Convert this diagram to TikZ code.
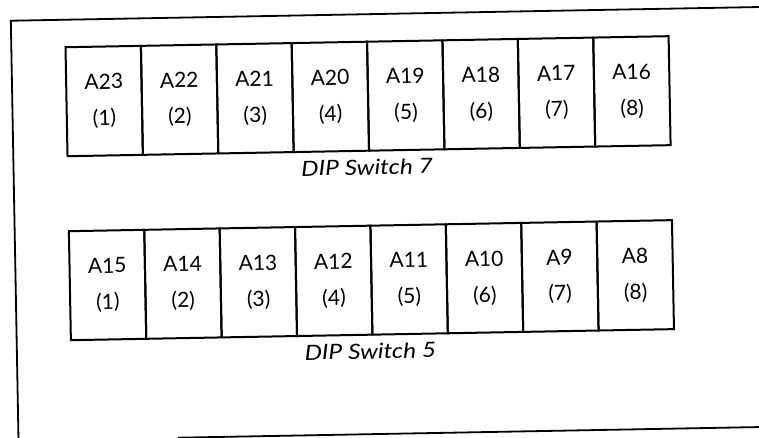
\documentclass[tikz,border=0pt]{standalone}
\usepackage{fontspec}
\setmainfont{Lato}
\begin{document}
\begin{tikzpicture}[x=1pt,y=-1pt,
  frameline/.style={line width=1.8pt},
  cell/.style={draw, line width=2pt, rectangle, minimum width=75.4pt, minimum height=109pt,
    inner sep=0pt, align=center, font=\fontsize{21}{36}\selectfont, transform shape},
  diplabel/.style={font=\fontsize{21}{25}\itshape, inner sep=0pt, transform shape}]
\useasboundingbox (0,0) rectangle (759,438);
\clip (0,0) rectangle (759,438);
\begin{scope}[rotate around={1.05:(380,219)}]
  % frame
  \coordinate (ftr) at (820,14);
  \coordinate (ftl) at (14.5,14);
  \coordinate (fbl) at (14.5,470);
  \coordinate (bbl) at (174,434);
  \coordinate (bbr) at (820,434);
  \draw[frameline] (ftr) -- (ftl) -- (fbl);
  \draw[frameline] (bbl) -- (bbr);
  % DIP switch 7
  \foreach \i/\a in {1/23,2/22,3/21,4/20,5/19,6/18,7/17,8/16}{
    \node[cell] (t\i) at ({68.7+75.4*(\i-0.5)},96) {A\a\\(\i)};
  }
  \node[diplabel] (lt) at (368,167) {\scalebox{1.17}[1]{DIP Switch 7}};
  % DIP switch 5
  \foreach \i/\a in {1/15,2/14,3/13,4/12,5/11,6/10,7/9,8/8}{
    \node[cell] (b\i) at ({68.7+75.4*(\i-0.5)},280) {A\a\\(\i)};
  }
  \node[diplabel] (lb) at (368,351) {\scalebox{1.17}[1]{DIP Switch 5}};
\end{scope}
\end{tikzpicture}
\end{document}
